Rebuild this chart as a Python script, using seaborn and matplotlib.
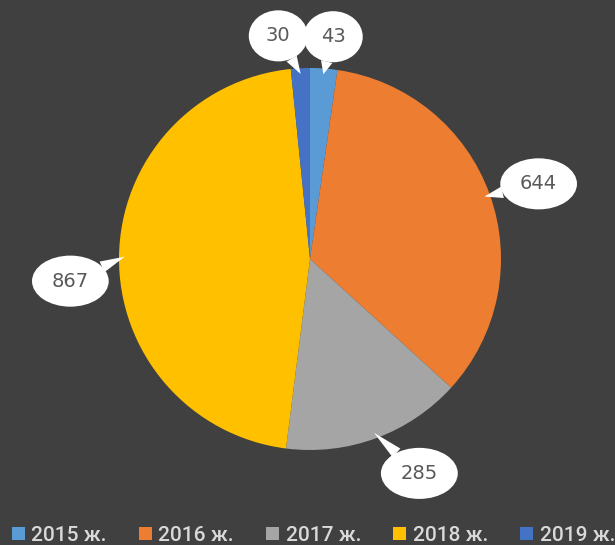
import numpy as np
import matplotlib
matplotlib.use("Agg")
import matplotlib.pyplot as plt
import seaborn as sns

categories = ["2015 ж.", "2016 ж.", "2017 ж.", "2018 ж.", "2019 ж."]
values = [43, 644, 285, 867, 30]
colors = ["#5B9BD5", "#ED7D31", "#A5A5A5", "#FFC000", "#4472C4"]

sns.set_theme(style="dark")
plt.rcParams['font.family'] = ['DejaVu Sans']

BG = "#404040"
W, H = 615, 545
CX, CY, R = 310, 259, 191

fig = plt.figure(figsize=(W / 100, H / 100), dpi=100, facecolor=BG)
ax = fig.add_axes([0, 0, 1, 1])
ax.set_facecolor(BG)

pal = sns.color_palette(colors)
wedges, _ = ax.pie(values, colors=pal, startangle=90, counterclock=False,
                   radius=1.0, center=(0, 0), frame=True,
                   wedgeprops=dict(linewidth=0))

ax.set_xlim(-CX / R, (W - CX) / R)
ax.set_ylim(-(H - CY) / R, CY / R)
ax.set_aspect('auto')
ax.axis('off')

# label placement (radial factor, angle nudge in degrees)
rad_f = [1.17, 1.26, 1.26, 1.26, 1.18]
ang_n = [-1.8, -1.5, 6.8, 6.0, 5.2]
for w, v, rf, an in zip(wedges, values, rad_f, ang_n):
    mid = np.deg2rad((w.theta1 + w.theta2) / 2)
    lab = mid + np.deg2rad(an)
    xy = (0.97 * np.cos(mid), 0.97 * np.sin(mid))
    xt = (rf * np.cos(lab), rf * np.sin(lab))
    ax.annotate(str(v), xy=xy, xytext=xt, ha='center', va='center',
                fontsize=14, color="#595959",
                bbox=dict(boxstyle='ellipse,pad=0.44', fc='white', ec='none'),
                arrowprops=dict(arrowstyle='wedge,tail_width=0.6,shrink_factor=0.5',
                                fc='white', ec='none', shrinkA=0, shrinkB=0),
                zorder=5)

leg = fig.legend(wedges, categories, loc='lower left', ncol=5,
                 bbox_to_anchor=(12 / W, 0.0), frameon=False,
                 prop={'family': ['Roboto', 'DejaVu Sans'], 'size': 15,
                       'weight': 'medium'},
                 labelcolor="#D9D9D9",
                 handlelength=0.6, handleheight=0.6, handletextpad=0.33,
                 columnspacing=1.55, borderaxespad=0.0, borderpad=0.0)

fig.savefig("out.png", dpi=100, facecolor=BG)
